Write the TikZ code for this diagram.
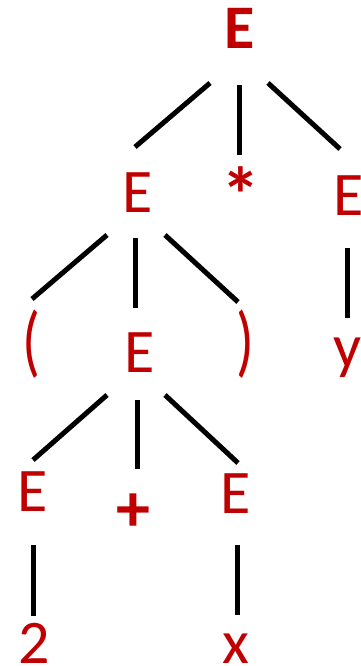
\documentclass[tikz,border=0pt]{standalone}
\usepackage{fontspec}
\setmainfont{Carlito}
\definecolor{tred}{HTML}{C00000}
\begin{document}
\begin{tikzpicture}[x=1pt,y=-1pt,
  sym/.style={text=tred, font=\fontsize{62}{62}\selectfont, inner sep=0pt, anchor=base},
  bsym/.style={sym, font=\fontsize{62}{62}\selectfont\bfseries},
  paren/.style={sym, anchor=center},
  edge/.style={line width=5pt, draw=black}]
\useasboundingbox (0,0) rectangle (360,666);
% nodes
\node[bsym] (r) at (240,49) {E};
\node[sym] (a) at (138,212) {E};
\node[bsym, anchor=center, font=\fontsize{78}{78}\selectfont\bfseries] (star) at (241,195) {*};
\node[sym] (b) at (349,215) {E};
\node[paren] (lp) at (31,344) {\scalebox{0.95}[1.27]{(}};
\node[sym] (c) at (140,372) {E};
\node[paren] (rp) at (245,344) {\scalebox{0.95}[1.27]{)}};
\node[sym] (y) at (348,367) {y};
\node[sym] (d) at (33,511) {E};
\node[bsym, anchor=center, font=\fontsize{68}{68}\selectfont\bfseries] (plus) at (133,513) {+};
\node[sym] (e) at (236,513) {E};
\node[sym] (two) at (34,663) {2};
\node[sym] (x) at (236,663) {x};
% connector end points
\coordinate (r-a1) at (210,83);   \coordinate (r-a2) at (135,147);
\coordinate (r-s1) at (239,85);   \coordinate (r-s2) at (239,155);
\coordinate (r-b1) at (268,83);   \coordinate (r-b2) at (340,149);
\coordinate (a-l1) at (107,235);  \coordinate (a-l2) at (32,299);
\coordinate (a-c1) at (135,238);  \coordinate (a-c2) at (135,308);
\coordinate (a-r1) at (165,235);  \coordinate (a-r2) at (238,302);
\coordinate (b-y1) at (347,248);  \coordinate (b-y2) at (347,318);
\coordinate (c-d1) at (107,395);  \coordinate (c-d2) at (33,460);
\coordinate (c-p1) at (137,400);  \coordinate (c-p2) at (137,469);
\coordinate (c-e1) at (165,395);  \coordinate (c-e2) at (238,463);
\coordinate (d-t1) at (33,545);   \coordinate (d-t2) at (33,616);
\coordinate (e-x1) at (237,545);  \coordinate (e-x2) at (237,615);
% connectors
\draw[edge] (r-a1) -- (r-a2);
\draw[edge] (r-s1) -- (r-s2);
\draw[edge] (r-b1) -- (r-b2);
\draw[edge] (a-l1) -- (a-l2);
\draw[edge] (a-c1) -- (a-c2);
\draw[edge] (a-r1) -- (a-r2);
\draw[edge] (b-y1) -- (b-y2);
\draw[edge] (c-d1) -- (c-d2);
\draw[edge] (c-p1) -- (c-p2);
\draw[edge] (c-e1) -- (c-e2);
\draw[edge] (d-t1) -- (d-t2);
\draw[edge] (e-x1) -- (e-x2);
\end{tikzpicture}
\end{document}
